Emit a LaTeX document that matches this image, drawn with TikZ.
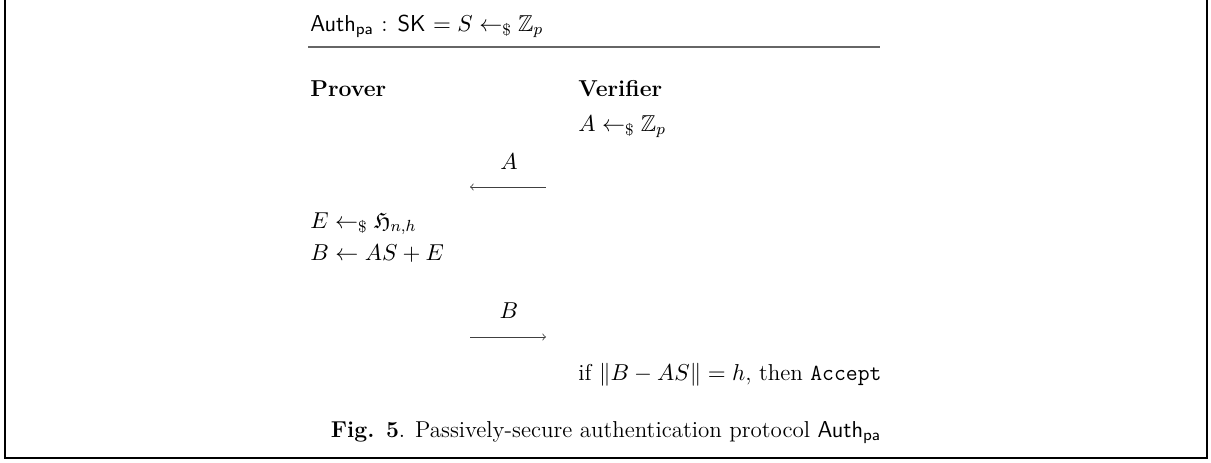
\RequirePackage{fix-cm}
\documentclass[tikz,border=0pt]{standalone}
\usepackage{amsmath}
\usepackage{amssymb}
\usetikzlibrary{arrows}

\begin{document}
\begin{tikzpicture}[x=0.5pt, y=-0.5pt, every node/.style={inner sep=0pt, font=\fontsize{11.5}{14}\selectfont}]
	\useasboundingbox (0,0) rectangle (1211,462);
	% frame, open at the top
	\draw [line width=0.8pt] (5,0) -- (5,458) -- (1207,458) -- (1207,0);
	\node [anchor=base west] (head) at (310,31) {\textsf{Auth}$_{\textsf{pa}}$ : \textsf{SK} $= S \leftarrow_{\$} \mathbb{Z}_p$};
	\draw [line width=0.6pt, gray!80!black] (308,47) -- (880,47);
	\node [anchor=base west] (P) at (310,96) {\textbf{Prover}};
	\node [anchor=base west] (V) at (578,96) {\textbf{Verifier}};
	\node [anchor=base west] (v1) at (578,131) {$A \leftarrow_{\$} \mathbb{Z}_p$};
	\node [anchor=base] (mA) at (509,169) {$A$};
	\coordinate (aL) at (470,187);
	\coordinate (aR) at (546,187);
	\draw [to-, thin, black!75] (aL) -- (aR);
	\node [anchor=base west] (p1) at (310,228) {$E \leftarrow_{\$} \mathfrak{H}_{n,h}$};
	\node [anchor=base west] (p2) at (310,260) {$B \leftarrow AS + E$};
	\node [anchor=base] (mB) at (509,318) {$B$};
	\coordinate (bL) at (470,337);
	\coordinate (bR) at (546,337);
	\draw [-to, thin, black!75] (bL) -- (bR);
	\node [anchor=base west] (v2) at (578,380) {if $\|B - AS\| = h$, then \texttt{Accept}};
	\node [anchor=base] (cap) at (606,437) {\textbf{Fig. 5}. Passively-secure authentication protocol \textsf{Auth}$_{\textsf{pa}}$};
\end{tikzpicture}
\end{document}
